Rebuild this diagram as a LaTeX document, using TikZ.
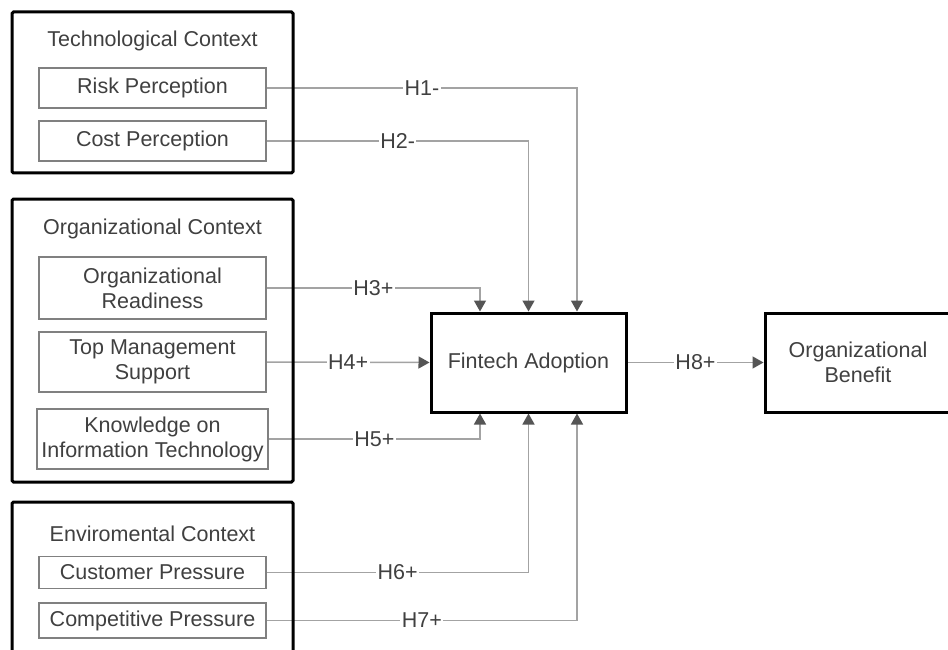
\documentclass[tikz,border=0pt]{standalone}
\usepackage{fontspec}
\setmainfont{Liberation Sans}
\usetikzlibrary{arrows.meta,backgrounds}
\definecolor{txt}{HTML}{404040}
\definecolor{inner}{HTML}{808080}
\definecolor{conn}{HTML}{A3A3A3}
\definecolor{tipc}{HTML}{555555}
\tikzset{
  outerbox/.style={draw=black, line width=3pt, rectangle, rounded corners=1.5pt, inner sep=0pt},
  innerbox/.style={draw=inner, line width=1.5pt, rectangle, inner sep=0pt, align=center, text=txt},
  mainbox/.style={draw=black, line width=3pt, rectangle, inner sep=0pt, align=center, text=txt},
  ttl/.style={text=txt, inner sep=0pt},
  lbl/.style={fill=white, text=txt, inner sep=1.5pt},
  cn/.style={draw=conn, line width=1.5pt, -{Triangle[length=11pt,width=12pt,color=tipc]}},
}
\begin{document}
\begin{tikzpicture}[x=1pt,y=-1pt,font=\fontsize{21.5}{25}\selectfont]
\useasboundingbox (0,0) rectangle (948,650);
\clip (0,0) rectangle (948,650);
% Technological context
\node[outerbox, minimum width=281, minimum height=161] (tech) at (152.5,92.5) {};
\node[ttl] (techt) at (152.5,41) {Technological Context};
\node[innerbox, minimum width=227, minimum height=40] (risk) at (152.5,88) {Risk Perception};
\node[innerbox, minimum width=227, minimum height=40] (cost) at (152.5,141) {Cost Perception};
% Organizational context
\node[outerbox, minimum width=281, minimum height=283] (org) at (152.5,340.5) {};
\node[ttl] (orgt) at (152.5,229) {Organizational Context};
\node[innerbox, minimum width=227, minimum height=62] (ready) at (152.5,288) {Organizational\\Readiness};
\node[innerbox, minimum width=227, minimum height=60] (topm) at (152.5,362) {Top Management\\Support};
\node[innerbox, minimum width=231, minimum height=60] (know) at (152.5,439) {Knowledge on\\Information Technology};
% Environmental context
\node[outerbox, minimum width=281, minimum height=190] (env) at (152.5,597) {};
\node[ttl] (envt) at (152.5,534) {Enviromental Context};
\node[innerbox, minimum width=227, minimum height=32] (cust) at (152.5,572.5) {Customer Pressure};
\node[innerbox, minimum width=227, minimum height=35] (comp) at (152.5,620.5) {Competitive Pressure};
% Main boxes
\node[mainbox, minimum width=195, minimum height=99] (fin) at (528.5,362.5) {Fintech Adoption};
\node[mainbox, minimum width=186, minimum height=99] (ben) at (858,362.5) {Organizational\\Benefit};
% Connectors
\begin{scope}[on background layer]
\fill[white] (0,0) rectangle (948,650);
\draw[cn] (risk.east) -| node[lbl,pos=0.25]{H1-} ([xshift=48.5]fin.north);
\draw[cn] (cost.east) -| node[lbl,pos=0.25]{H2-} (fin.north);
\draw[cn] (ready.east) -| node[lbl,pos=0.25]{H3+} ([xshift=-48.5]fin.north);
\draw[cn] (topm.east) -- node[lbl]{H4+} (fin.west);
\draw[cn] (know.east) -| node[lbl,pos=0.25]{H5+} ([xshift=-48.5]fin.south);
\draw[cn] (cust.east) -| node[lbl,pos=0.25]{H6+} (fin.south);
\draw[cn] (comp.east) -| node[lbl,pos=0.25]{H7+} ([xshift=48.5]fin.south);
\draw[cn] (fin.east) -- node[lbl]{H8+} (ben.west);
\end{scope}
\end{tikzpicture}
\end{document}
